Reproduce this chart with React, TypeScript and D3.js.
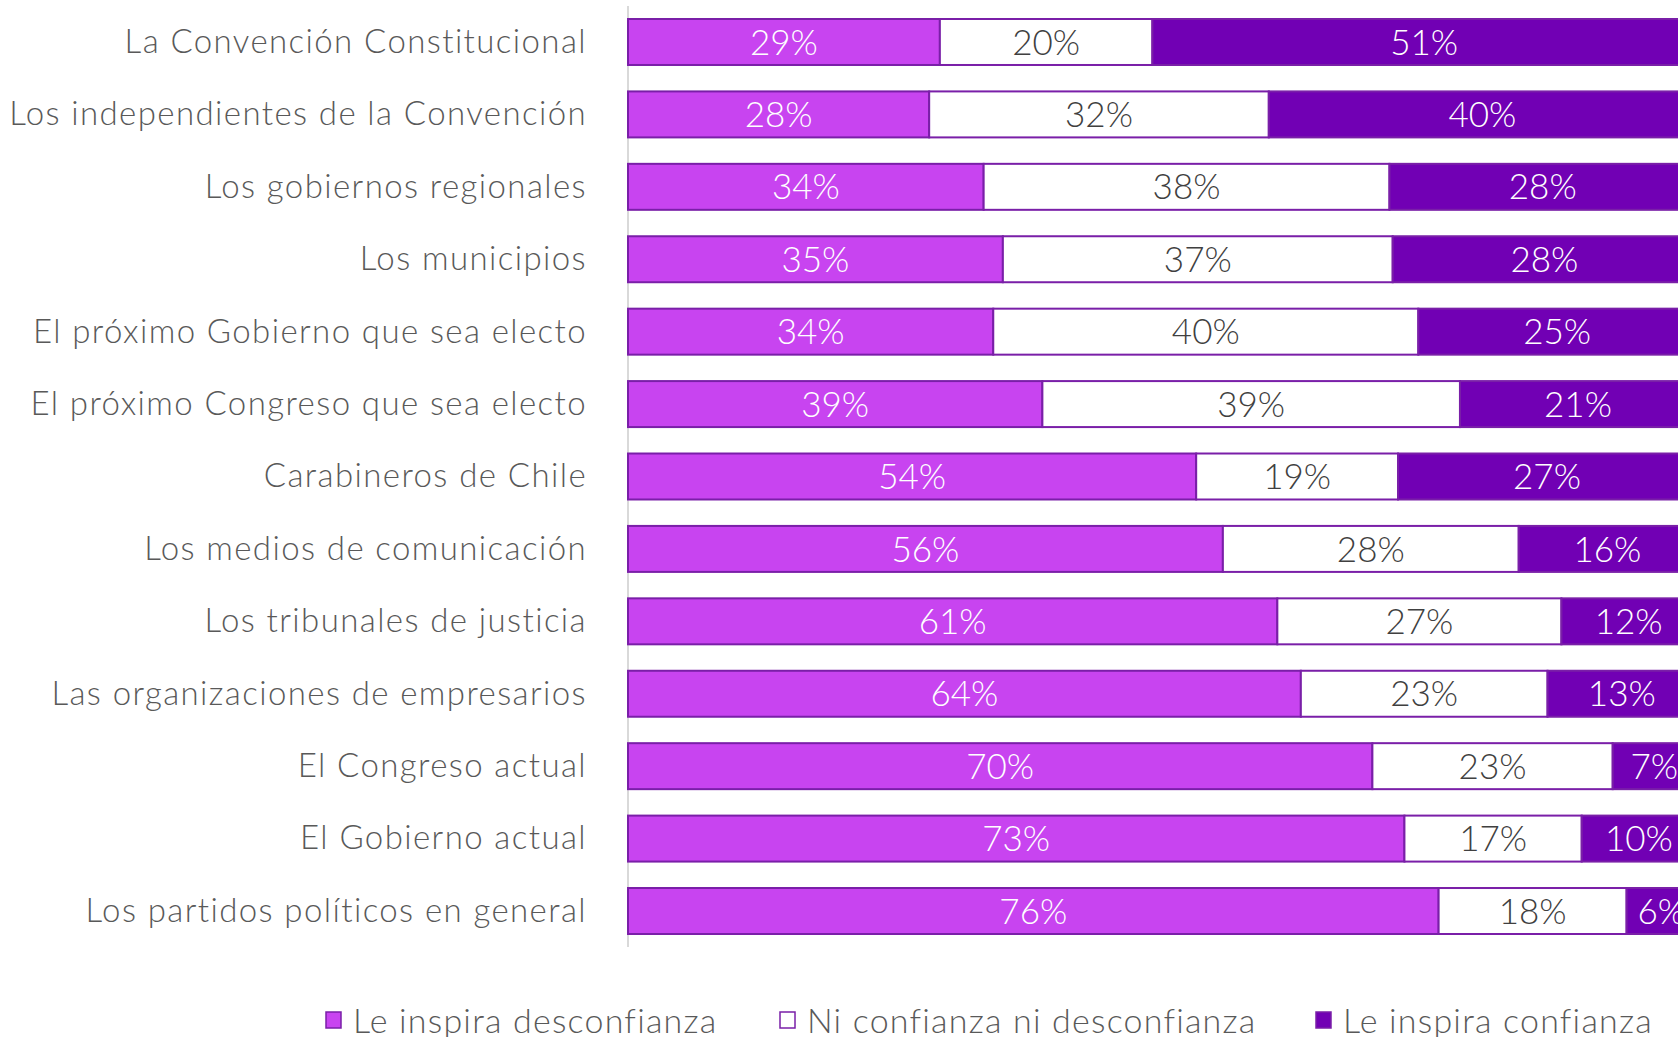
import React, { useEffect } from "react";
import * as d3 from "d3";

const categories = [
  "La Convención Constitucional",
  "Los independientes de la Convención",
  "Los gobiernos regionales",
  "Los municipios",
  "El próximo Gobierno que sea electo",
  "El próximo Congreso que sea electo",
  "Carabineros de Chile",
  "Los medios de comunicación",
  "Los tribunales de justicia",
  "Las organizaciones de empresarios",
  "El Congreso actual",
  "El Gobierno actual",
  "Los partidos políticos en general",
];
// segment lengths as drawn in the picture
const desconfianza = [29.2, 28.2, 33.3, 35.1, 34.2, 38.8, 53.2, 55.7, 60.8, 63.0, 69.7, 72.7, 75.9];
const ninguna = [19.9, 31.8, 38.0, 36.5, 39.8, 39.1, 18.9, 27.7, 26.6, 23.1, 22.5, 16.6, 17.6];
const confianza = [50.9, 40.0, 28.7, 28.4, 26.0, 22.1, 27.9, 16.6, 12.6, 13.9, 7.8, 10.7, 6.5];
// printed labels
const desconfianzaLbl = ["29%", "28%", "34%", "35%", "34%", "39%", "54%", "56%", "61%", "64%", "70%", "73%", "76%"];
const ningunaLbl = ["20%", "32%", "38%", "37%", "40%", "39%", "19%", "28%", "27%", "23%", "23%", "17%", "18%"];
const confianzaLbl = ["51%", "40%", "28%", "28%", "25%", "21%", "27%", "16%", "12%", "13%", "7%", "10%", "6%"];
const seriesNames = ["Le inspira desconfianza", "Ni confianza ni desconfianza", "Le inspira confianza"];

const W = 1678;
const H = 1037;
const FONT = "Lato, 'Open Sans', sans-serif";
const fills = ["#C844F0", "#FFFFFF", "#7100B4"];
const labelColors = ["#FFFFFF", "#404040", "#FFFFFF"];
const STROKE = "#7A1FA8";

export default function App() {
  useEffect(() => {
    document.body.style.margin = "0";
    document.body.style.overflow = "hidden";
  }, []);

  const x = d3.scaleLinear().domain([0, 100]).range([628, 1696]);
  const y = d3.scaleBand<string>().domain(categories).range([19, 934]).paddingInner(0.365).paddingOuter(0);
  const series = [desconfianza, ninguna, confianza];
  const labels = [desconfianzaLbl, ningunaLbl, confianzaLbl];

  const rows = categories.map((c, i) => {
    let acc = 0;
    const segs = series.map((s, k) => {
      const v = s[i];
      const seg = { k, lbl: labels[k][i], x0: acc, x1: acc + v };
      acc += v;
      return seg;
    });
    return { c, segs };
  });

  const legendX = [326, 780, 1316];

  return (
    <svg width={W} height={H} style={{ position: "absolute", left: 0, top: 0, display: "block", background: "#fff" }}>
      <line x1={628} x2={628} y1={6} y2={947} stroke="#D9D9D9" strokeWidth={2} />
      {rows.map((r) => {
        const yy = y(r.c)!;
        const bw = y.bandwidth();
        return (
          <g key={r.c}>
            <text
              x={587}
              y={yy + bw / 2}
              dy="0.33em"
              textAnchor="end"
              fontFamily={FONT}
              fontWeight={300}
              fontSize={33}
              letterSpacing={1.4}
              fill="#595959"
            >
              {r.c}
            </text>
            {r.segs.map((s) => (
              <rect
                key={s.k}
                x={x(s.x0)}
                y={yy}
                width={x(s.x1) - x(s.x0)}
                height={bw}
                fill={fills[s.k]}
                stroke={STROKE}
                strokeWidth={2}
              />
            ))}
            {r.segs.map((s) => (
              <text
                key={"t" + s.k}
                x={(x(s.x0) + x(s.x1)) / 2}
                y={yy + bw / 2}
                dy="0.36em"
                textAnchor="middle"
                fontFamily={FONT}
                fontWeight={300}
                fontSize={35}
                fill={labelColors[s.k]}
              >
                {s.lbl}
              </text>
            ))}
          </g>
        );
      })}
      {seriesNames.map((n, k) => (
        <g key={n}>
          <rect x={legendX[k]} y={1012} width={15} height={16} fill={fills[k]} stroke={STROKE} strokeWidth={1.5} />
          <text x={legendX[k] + 27} y={1033} fontFamily={FONT} fontWeight={300} fontSize={34} letterSpacing={1.2} fill="#595959">
            {n}
          </text>
        </g>
      ))}
    </svg>
  );
}
